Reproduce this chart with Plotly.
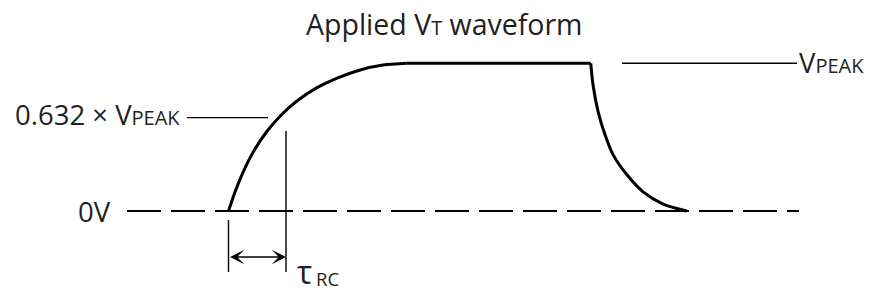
import plotly.graph_objects as go

# ---- data: time in units of tau_RC, voltage as a fraction of V_PEAK ----
rise_t = [0.0, 0.11, 0.25, 0.43, 0.67, 0.93, 1.19, 1.54, 1.89, 2.29, 2.69, 3.10]
rise_v = [0.0, 0.125, 0.26, 0.40, 0.54, 0.655, 0.745, 0.835, 0.90, 0.955, 0.988, 1.0]
hold_t = [3.10, 6.30]
hold_v = [1.0, 1.0]
fall_t = [6.30, 6.34, 6.43, 6.55, 6.69, 6.93, 7.21, 7.56, 7.97]
fall_v = [1.0, 0.853, 0.67, 0.515, 0.38, 0.245, 0.13, 0.047, 0.0]
V_PEAK = 1.0
V_TAU = 0.632
TAU = 1.0

SMALL = 20
title_text = f"Applied V<span style='font-size:{SMALL}px'>T</span> waveform"
label_tau_level = f"0.632 × V<span style='font-size:{SMALL}px'>PEAK</span>"
label_peak = f"V<span style='font-size:{SMALL}px'>PEAK</span>"
label_zero = "0V"

# ---- layout geometry (pixel based helpers) ----
W, H = 870, 293
PX_PER_T, T0_PX = 57.5, 228.5
PX_PER_V, V0_PX = 147.7, 211.0


def tx(px):
    return (px - T0_PX) / PX_PER_T


def vy(py):
    return (V0_PX - py) / PX_PER_V


INK = "#231f20"
FONT = "Open Sans"
BIG = 27.5

fig = go.Figure()
fig.add_trace(go.Scatter(x=rise_t, y=rise_v, mode="lines",
                         line=dict(color="black", width=3, shape="spline", smoothing=0.8),
                         hoverinfo="skip"))
fig.add_trace(go.Scatter(x=hold_t, y=hold_v, mode="lines",
                         line=dict(color="black", width=3), hoverinfo="skip"))
fig.add_trace(go.Scatter(x=fall_t, y=fall_v, mode="lines",
                         line=dict(color="black", width=3, shape="spline", smoothing=0.8),
                         hoverinfo="skip"))

shapes = [
    # 0V dashed reference
    dict(type="line", x0=tx(127), x1=tx(799), y0=0, y1=0,
         line=dict(color="black", width=1.8, dash="34px,10px")),
    # 0.632 level marker
    dict(type="line", x0=tx(187), x1=tx(268), y0=V_TAU, y1=V_TAU,
         line=dict(color="black", width=1.4)),
    # V_PEAK marker
    dict(type="line", x0=tx(622), x1=tx(797), y0=V_PEAK, y1=V_PEAK,
         line=dict(color="black", width=1.4)),
    # vertical at t=0
    dict(type="line", x0=0, x1=0, y0=vy(220), y1=vy(272),
         line=dict(color="black", width=1.4)),
    # vertical at t=tau
    dict(type="line", x0=TAU, x1=TAU, y0=vy(131), y1=vy(272),
         line=dict(color="black", width=1.4)),
]

arrow_y = vy(257)
annotations = [
    dict(x=TAU, y=arrow_y, ax=0, ay=arrow_y, xref="x", yref="y", axref="x", ayref="y",
         text="", showarrow=True, arrowhead=3, startarrowhead=3, arrowside="end+start",
         arrowwidth=1.4, arrowsize=1.7, startarrowsize=1.7, arrowcolor="black",
         standoff=0, startstandoff=0),
    dict(x=443.5 / W, y=1 - 24 / H, xref="paper", yref="paper", text=title_text,
         showarrow=False, xanchor="center", yanchor="middle",
         font=dict(family=FONT, size=BIG + 1, color=INK)),
    dict(x=tx(187), y=V_TAU, xref="x", yref="y", text=label_tau_level,
         showarrow=False, xanchor="right", yanchor="middle", xshift=-5, yshift=3,
         font=dict(family=FONT, size=BIG, color=INK)),
    dict(x=tx(797), y=V_PEAK, xref="x", yref="y", text=label_peak,
         showarrow=False, xanchor="left", yanchor="middle", xshift=0, yshift=1,
         font=dict(family=FONT, size=BIG, color=INK)),
    dict(x=tx(127), y=0, xref="x", yref="y", text=label_zero,
         showarrow=False, xanchor="right", yanchor="middle", xshift=-14, yshift=0,
         font=dict(family=FONT, size=BIG, color=INK)),
    dict(x=304.5 / W, y=1 - 271 / H, xref="paper", yref="paper", text="τ",
         showarrow=False, xanchor="center", yanchor="middle",
         font=dict(family=FONT, size=32, color=INK)),
    dict(x=314 / W, y=0, xref="paper", yref="paper", text="RC",
         showarrow=False, xanchor="left", yanchor="bottom",
         font=dict(family=FONT, size=18.5, color=INK)),
]

fig.update_layout(
    width=W, height=H, autosize=False,
    margin=dict(l=0, r=0, t=0, b=0, pad=0),
    paper_bgcolor="white", plot_bgcolor="white",
    showlegend=False,
    xaxis=dict(range=[tx(0), tx(W)], visible=False, fixedrange=True),
    yaxis=dict(range=[vy(H), vy(0)], visible=False, fixedrange=True),
    shapes=shapes, annotations=annotations,
)

fig.write_html("out.html", config={"displayModeBar": False},
               post_script="document.body.style.margin='0';document.body.style.overflow='hidden';")
